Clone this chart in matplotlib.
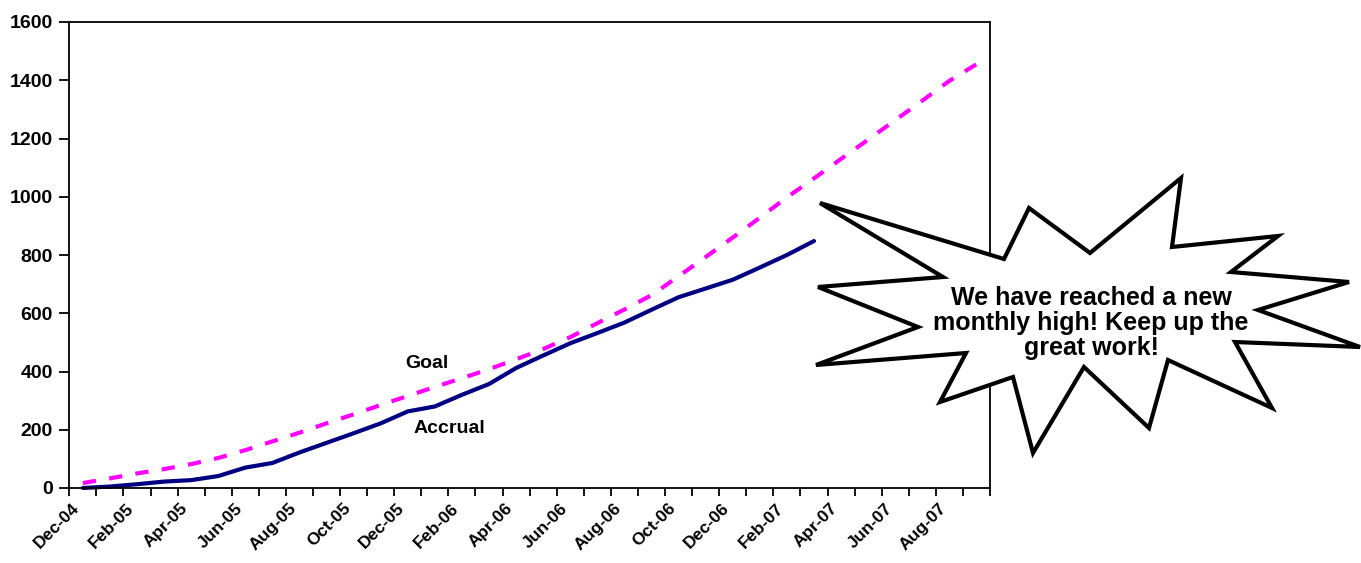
# Accrual vs Goal chart with starburst callout

import numpy as np
import matplotlib
matplotlib.use('Agg')
import matplotlib.pyplot as plt
from matplotlib.patches import Polygon

plt.rcParams['font.family'] = ['Liberation Sans', 'DejaVu Sans']
plt.rcParams['font.weight'] = 'bold'

# Data - one value per month, Dec-04 .. Sep-07
months = ['Dec-04', 'Jan-05', 'Feb-05', 'Mar-05', 'Apr-05', 'May-05', 'Jun-05', 'Jul-05',
          'Aug-05', 'Sep-05', 'Oct-05', 'Nov-05', 'Dec-05', 'Jan-06', 'Feb-06', 'Mar-06',
          'Apr-06', 'May-06', 'Jun-06', 'Jul-06', 'Aug-06', 'Sep-06', 'Oct-06', 'Nov-06',
          'Dec-06', 'Jan-07', 'Feb-07', 'Mar-07', 'Apr-07', 'May-07', 'Jun-07', 'Jul-07',
          'Aug-07', 'Sep-07']

goal = [17, 33, 50, 65, 82, 103, 130, 160, 190, 222, 253, 285, 316, 347, 377, 408,
        442, 477, 518, 566, 613, 662, 727, 793, 860, 928, 998, 1063, 1130, 1196, 1263,
        1330, 1398, 1455]

accrual = [0, 5, 13, 22, 27, 41, 70, 86, 122, 155, 188, 222, 263, 280, 320, 357,
           412, 455, 497, 532, 568, 612, 655, 685, 715, 757, 800, 848]

callout_text = 'We have reached a new\nmonthly high! Keep up the\ngreat work!'

# Starburst outline (figure pixels, origin top-left)
star_px = [(820, 203), (1004, 259), (1029, 208), (1090, 253), (1181, 178), (1172, 247),
           (1278, 236), (1231, 272), (1349, 282), (1258, 310), (1360, 347), (1235, 342),
           (1272, 408), (1168, 360), (1149, 428), (1084, 367), (1033, 453), (1013, 377),
           (940, 402), (966, 353), (816, 365), (918, 327), (818, 287), (943, 277)]

W, H = 1361, 563
fig = plt.figure(figsize=(W / 100, H / 100), dpi=100)
ax = fig.add_axes([69.3 / W, 1 - 488 / H, (990 - 69.3) / W, (488 - 22) / H])

n = len(months)
x_goal = np.arange(len(goal)) + 0.5
x_acc = np.arange(len(accrual)) + 0.5

ax.plot(x_goal, goal, color='#FF00FF', linewidth=3, dashes=(3.2, 3.2),
        solid_capstyle='butt', dash_capstyle='butt', clip_on=False)
ax.plot(x_acc, accrual, color='#000080', linewidth=3, solid_capstyle='round', clip_on=False)

ax.text(13.2, 429, 'Goal', fontsize=14, fontweight='bold', ha='center', va='center')
ax.text(14.05, 206, 'Accrual', fontsize=14, fontweight='bold', ha='center', va='center')

# Axes
ax.set_xlim(0, n)
ax.set_ylim(0, 1600)
ax.set_yticks(np.arange(0, 1601, 200))
ax.tick_params(axis='y', labelsize=14, length=7, width=1.3, direction='out', pad=5)

ax.set_xticks(np.arange(0, n + 1))
ax.set_xticklabels([])
ax.tick_params(axis='x', which='major', length=6, width=1.3, direction='out')
ax.set_xticks(np.arange(0, n, 2) + 0.1, minor=True)
ax.set_xticklabels(months[::2], minor=True, rotation=45, ha='right', va='top',
                   rotation_mode='anchor', fontsize=12.5, fontweight='bold')
ax.tick_params(axis='x', which='minor', length=0, pad=9)

for s in ax.spines.values():
    s.set_linewidth(1.3)
    s.set_color('black')

for lab in ax.get_yticklabels():
    lab.set_fontweight('bold')

# Starburst callout
star_fig = [(px / W, 1 - py / H) for px, py in star_px]
star = Polygon(star_fig, closed=True, facecolor='white', edgecolor='black', linewidth=3,
               joinstyle='miter', transform=fig.transFigure, clip_on=False, zorder=10)
ax.add_patch(star)
fig.text(1091 / W, 1 - 323 / H, callout_text, fontsize=18, fontweight='bold',
         ha='center', va='center', linespacing=1.05, zorder=11)

fig.savefig('out.png', dpi=100)
